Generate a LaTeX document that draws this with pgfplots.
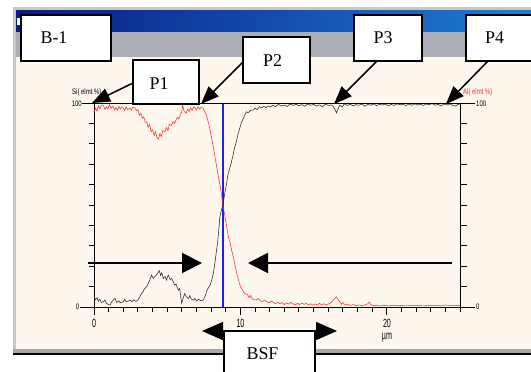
\documentclass[border=0pt]{standalone}
\usepackage{fontspec}
\setmainfont{Liberation Serif}
\newfontfamily\narrowsans[FakeStretch=0.75]{Liberation Sans}
\newfontfamily\tallsans[FakeStretch=0.6]{Liberation Sans}
\usepackage{pgfplots}
\pgfplotsset{compat=1.18}
\usetikzlibrary{arrows.meta}
\definecolor{cream}{RGB}{253,247,237}
\definecolor{menugray}{RGB}{172,176,182}
\definecolor{framegray}{RGB}{200,200,200}
\definecolor{tbleft}{RGB}{8,28,135}
\definecolor{tbright}{RGB}{30,125,210}
\definecolor{redline}{RGB}{255,45,45}
\definecolor{blkline}{RGB}{40,40,40}
\definecolor{bsfblue}{RGB}{30,30,240}

\pgfplotstableread{
x y
0.00 5.5
0.10 3.5
0.20 4.5
0.30 2.8
0.40 3.8
0.50 2.2
0.64 2.6
0.75 3.5
0.85 1.8
1.00 1.2
1.10 1.0
1.20 2.5
1.30 3.2
1.43 4.3
1.55 2.2
1.70 3.0
1.80 2.0
2.00 2.6
2.10 3.8
2.20 2.5
2.35 3.0
2.46 3.4
2.60 2.6
2.70 3.6
2.85 2.8
3.00 3.4
3.10 4.6
3.25 6.7
3.35 7.5
3.45 9.0
3.60 10.0
3.70 11.5
3.80 13.0
3.94 15.7
4.05 14.0
4.16 14.9
4.30 16.0
4.46 17.8
4.55 15.5
4.63 16.8
4.73 14.0
4.85 15.0
4.95 13.2
5.07 15.7
5.20 13.5
5.30 14.0
5.41 12.4
5.50 10.8
5.60 11.2
5.76 8.3
5.85 9.0
5.99 1.8
6.10 4.5
6.20 6.7
6.30 5.0
6.45 4.2
6.55 5.5
6.65 3.8
6.78 3.4
6.90 4.2
7.00 2.9
7.15 3.8
7.30 3.0
7.46 3.4
7.60 5.5
7.70 7.8
7.80 9.2
7.95 11.0
8.05 13.5
8.15 16.5
8.25 21.0
8.37 27.9
8.44 31.2
8.50 36.0
8.60 44.3
8.70 47.5
8.78 49.2
8.85 52.0
8.95 56.5
9.06 60.6
9.15 65.0
9.24 67.2
9.35 70.0
9.50 74.5
9.60 78.0
9.70 80.5
9.85 85.0
9.95 87.5
10.05 90.0
10.15 91.7
10.30 94.0
10.40 95.7
10.55 95.2
10.70 96.5
10.90 96.6
11.00 97.5
11.15 96.8
11.30 98.2
11.45 97.6
11.60 98.4
11.75 97.7
11.90 98.6
12.05 98.0
12.20 98.9
12.40 98.2
12.60 99.3
12.80 98.5
13.00 99.0
13.20 98.3
13.40 99.6
13.60 98.8
13.80 99.4
14.00 98.6
14.20 99.2
14.40 98.4
14.60 99.5
14.80 98.9
15.00 99.3
15.20 98.5
15.40 99.1
15.60 98.2
15.80 99.4
16.00 98.8
16.20 99.0
16.35 98.3
16.45 97.0
16.56 95.2
16.68 97.4
16.80 99.0
16.95 98.0
17.10 99.6
17.30 98.8
17.50 99.4
17.70 98.6
17.90 99.2
18.10 98.9
18.30 99.5
18.50 98.4
18.70 99.3
18.90 98.9
19.10 99.6
19.30 98.7
19.50 99.4
19.70 99.0
19.90 99.5
20.10 98.6
20.30 99.3
20.50 98.8
20.70 99.6
20.90 99.1
21.10 99.4
21.30 98.7
21.50 99.5
21.70 98.9
21.90 99.6
22.10 99.0
22.30 99.4
22.50 98.8
22.70 99.5
22.90 99.2
23.10 99.7
23.30 98.9
23.50 99.4
23.70 98.6
23.90 99.5
24.10 99.0
24.30 99.6
24.50 98.8
24.70 98.5
24.85 99.3
25.00 99.5
}\blackdata

\pgfplotstableread{
x y
0.00 95.7
0.10 97.5
0.20 96.0
0.30 98.6
0.40 97.2
0.50 99.0
0.64 99.0
0.75 96.8
0.85 98.2
0.95 97.0
1.05 99.2
1.15 97.4
1.30 98.5
1.40 96.6
1.50 97.8
1.60 96.5
1.70 98.4
1.80 97.0
1.90 97.9
2.00 97.5
2.10 96.4
2.20 98.0
2.30 96.8
2.45 97.6
2.55 96.5
2.65 98.0
2.80 97.5
2.90 96.2
3.00 96.8
3.10 94.0
3.20 95.0
3.30 92.5
3.40 93.2
3.50 90.5
3.60 90.8
3.70 88.0
3.80 89.5
3.90 86.0
4.00 86.8
4.10 84.0
4.20 86.0
4.30 83.0
4.40 82.3
4.50 85.0
4.60 83.5
4.70 86.5
4.85 86.0
4.95 88.0
5.05 86.5
5.15 89.5
5.30 89.0
5.40 91.0
5.50 90.0
5.60 91.7
5.70 93.0
5.80 92.2
5.90 94.5
6.00 95.7
6.05 99.0
6.15 96.0
6.30 95.0
6.40 97.0
6.50 95.8
6.60 97.6
6.70 96.4
6.80 98.0
6.90 97.5
7.00 96.5
7.10 98.2
7.20 97.0
7.30 97.8
7.45 97.5
7.55 96.0
7.65 94.5
7.75 92.0
7.85 89.5
7.95 86.0
8.05 82.0
8.15 78.5
8.26 73.7
8.35 70.0
8.45 66.0
8.50 63.9
8.60 60.0
8.70 55.9
8.80 50.0
8.95 44.3
9.05 40.0
9.17 34.5
9.30 31.5
9.40 27.9
9.50 25.0
9.60 21.5
9.70 18.1
9.80 15.0
9.90 12.5
10.00 10.0
10.15 8.3
10.25 7.0
10.35 6.5
10.50 5.9
10.60 4.5
10.70 5.6
10.80 4.0
10.95 3.6
11.10 3.4
11.20 4.2
11.35 3.0
11.50 2.6
11.65 3.4
11.80 2.6
11.95 2.0
12.10 3.0
12.25 2.2
12.40 1.5
12.55 2.4
12.70 1.6
12.85 2.2
13.00 1.2
13.15 2.0
13.30 1.4
13.45 2.3
13.60 1.5
13.75 1.0
13.90 1.8
14.05 1.2
14.20 2.0
14.35 1.3
14.50 1.8
14.65 1.0
14.80 1.6
14.95 0.9
15.10 1.5
15.25 1.0
15.40 1.8
15.55 1.1
15.70 1.6
15.85 1.0
16.00 1.4
16.15 2.0
16.30 3.0
16.45 4.2
16.56 5.0
16.68 3.5
16.80 2.6
16.90 1.3
17.00 2.2
17.15 1.0
17.30 1.4
17.50 0.8
17.70 1.2
17.90 0.6
18.10 1.0
18.30 0.7
18.50 1.0
18.70 1.6
18.80 2.4
18.90 1.2
19.10 0.6
19.30 0.9
19.50 0.5
19.80 0.8
20.10 0.5
20.40 0.9
20.70 0.6
21.00 0.8
21.30 0.5
21.60 0.9
21.90 0.6
22.20 0.8
22.50 0.5
22.80 0.9
23.10 0.6
23.40 0.8
23.70 0.5
24.00 1.0
24.30 0.6
24.60 0.8
25.00 0.6
}\reddata

\begin{document}
\begin{tikzpicture}
\path[use as bounding box] (0,0) rectangle (531bp,372bp);
\begin{scope}[yshift=372bp,x=1bp,y=-1bp]
  \fill[white] (0,0) rectangle (531,372);
  \fill[framegray] (13,7) rectangle (531,353);
  \fill[gray!70] (13,349) rectangle (531,353);
  \fill[black] (13,353) rectangle (531,355);
  \shade[left color=tbleft, right color=tbright] (16,11) rectangle (531,32);
  \fill[white] (17,18) rectangle (21,25);
  \fill[menugray] (16,32) rectangle (531,57);
  \fill[cream] (16,57) rectangle (531,349);
\end{scope}

\begin{axis}[
  at={(94bp,65bp)}, anchor=south west,
  scale only axis, width=366bp, height=204bp,
  xmin=0, xmax=25, ymin=0, ymax=100,
  clip=false,
  axis line style={black, line width=0.8bp},
  xtick=\empty, ytick=\empty,
]
\addplot[draw=bsfblue, line width=1.1bp] coordinates {(8.81,0) (8.81,100)};
\addplot[draw=redline, line width=0.55bp] table {\reddata};
\addplot[draw=blkline, line width=0.55bp] table {\blackdata};
\end{axis}

\begin{scope}[yshift=372bp,x=1bp,y=-1bp]
  % extended baseline / top line
  \draw[line width=0.8bp] (82,103) -- (475,103);
  \draw[line width=0.8bp] (80,307) -- (475,307);
  % y ticks (every 10 units = 20.4 px)
  \foreach \k in {1,...,9} {
    \draw[line width=0.8bp] (94,{307-20.4*\k}) -- (89,{307-20.4*\k});
    \draw[line width=0.8bp] (460,{307-20.4*\k}) -- (467,{307-20.4*\k});
  }
  % x ticks (every unit = 14.64 px)
  \foreach \k in {1,...,25} {
    \draw[line width=1bp] ({94+14.64*\k},307) -- ({94+14.64*\k},312.5);
  }
  \foreach \k in {0,10,20} {
    \draw[line width=1bp] ({94+14.64*\k},307) -- ({94+14.64*\k},315.5);
  }
  % axis labels
  \begin{scope}[every node/.style={inner sep=0pt, font=\narrowsans\fontsize{8}{8}\selectfont}]
    \node[anchor=east] at (82,103.5) {100};
    \node[anchor=east] at (79.5,307) {0};
    \node[anchor=west] at (476,103.5) {100};
    \node[anchor=west] at (476,307) {0};
    \node[anchor=west] at (72,92) {Si( elmt \%)};
    \node[anchor=west, text=redline] at (463,92) {Al( elmt \%)};
  \end{scope}
  \begin{scope}[every node/.style={inner sep=0pt, font=\tallsans\fontsize{12}{12}\selectfont}]
    \node at (94,323.5) {0};
    \node at (240.5,323.5) {10};
    \node at (387,323.5) {20};
    \node at (387,337.5) {\textmu m};
  \end{scope}

  % horizontal arrows
  \draw[-{Triangle[length=20bp,width=20bp]}, line width=1.8bp] (88,263) -- (202,263);
  \draw[-{Triangle[length=20bp,width=20bp]}, line width=1.8bp] (452,263) -- (248,263);
  % BSF arrows
  \draw[{Triangle[length=21bp,width=18bp]}-{Triangle[length=21bp,width=18bp]}, line width=1.5bp] (202,331) -- (337,331);

  % callout boxes
  \begin{scope}[every node/.style={inner sep=0pt, font=\fontsize{18}{20}\selectfont}]
    \draw[line width=1.5bp, fill=white] (21,15) rectangle (111,61);
    \node at (54,38) {B-1};
    \draw[line width=1.5bp, fill=white] (133,60) rectangle (199,104);
    \node at (159,84) {P1};
    \draw[line width=1.5bp, fill=white] (243,37) rectangle (310,83);
    \node at (272.5,61) {P2};
    \draw[line width=1.5bp, fill=white] (354,15) rectangle (422,61);
    \node at (383,38) {P3};
    \draw[line width=1.5bp, fill=white] (466,15) rectangle (545,61);
    \node at (494.5,38) {P4};
    \draw[line width=1.5bp, fill=white] (224,331) rectangle (315,385);
    \node at (262.5,354) {BSF};
  \end{scope}

  % callout arrows
  \draw[-{Triangle[length=18bp,width=14bp]}, line width=1.5bp] (133,83) -- (92,103);
  \draw[-{Triangle[length=18bp,width=14bp]}, line width=1.5bp] (243,62) -- (201,104);
  \draw[-{Triangle[length=18bp,width=14bp]}, line width=1.5bp] (377,61) -- (334,104);
  \draw[-{Triangle[length=18bp,width=14bp]}, line width=1.5bp] (488,61) -- (446,104);
\end{scope}
\end{tikzpicture}
\end{document}
